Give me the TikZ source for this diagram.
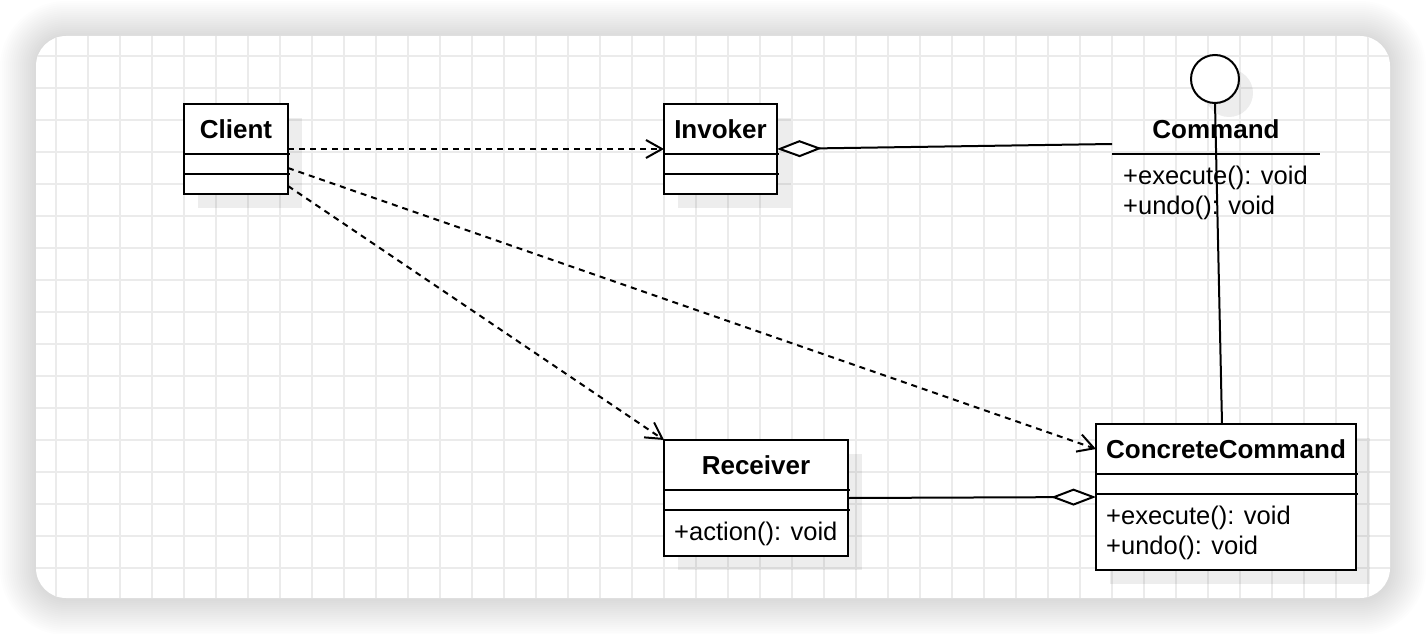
\documentclass[tikz,border=0pt]{standalone}
\usepackage{fontspec}
\setmainfont{Liberation Sans}
\usetikzlibrary{arrows.meta,shadows,positioning}

\definecolor{gridgray}{HTML}{EBEBEB}

\tikzset{
  umlclass/.style={draw, line width=2pt, fill=white, inner sep=0pt, outer sep=0pt,
    drop shadow={shadow xshift=14pt, shadow yshift=-14pt, fill=black, opacity=.07}},
  umlname/.style={font=\bfseries\fontsize{26}{30}\selectfont, inner sep=0pt, outer sep=0pt, minimum height=50pt},
  umlops/.style={font=\fontsize{25.5}{30}\selectfont, align=left, anchor=north west, inner xsep=10pt, inner ysep=12pt},
  umlline/.style={line width=2pt},
  dep/.style={line width=2pt, dash pattern=on 6pt off 5pt, -{Straight Barb[length=16pt,width=18pt]}},
  aggr/.style={line width=2pt, {Diamond[length=45pt,width=17pt,fill=white]}-},
}

\begin{document}
\begin{tikzpicture}[x=1pt,y=-1pt]
  \fill[white] (0,0) rectangle (1426,634);
  \useasboundingbox (0,0) rectangle (1426,634);

  % card and its shadow
  \foreach \i in {1,...,18}{
    \pgfmathsetmacro\r{30+2*\i}
    \fill[black, opacity=.007, rounded corners=\r pt] (36-2*\i,37-2*\i) rectangle (1390+2*\i,599+2*\i);
  }
  \fill[white, rounded corners=30pt] (36,36) rectangle (1390,598);
  \begin{scope}
    \clip[rounded corners=30pt] (36,36) rectangle (1390,598);
    \foreach \x in {56,88,...,1390} \draw[gridgray, line width=1.5pt] (\x,36) -- (\x,598);
    \foreach \y in {56,88,...,598} \draw[gridgray, line width=1.5pt] (36,\y) -- (1390,\y);
  \end{scope}

  % classes
  \node[umlclass, minimum width=104pt, minimum height=90pt] (client) at (236,149) {};
  \node[umlclass, minimum width=113pt, minimum height=90pt] (invoker) at (720.5,149) {};
  \node[umlclass, minimum width=184pt, minimum height=116pt] (receiver) at (756,498) {};
  \node[umlclass, minimum width=260pt, minimum height=146pt] (cc) at (1226,497) {};

  \node[umlname, below=0pt of client.north] (clientname) {Client};
  \node[umlname, below=0pt of invoker.north] (invokername) {Invoker};
  \node[umlname, below=0pt of receiver.north] (receivername) {Receiver};
  \node[umlname, below=0pt of cc.north] (ccname) {ConcreteCommand};

  \foreach \c in {client,invoker,receiver,cc}{
    \draw[umlline] ([yshift=-50pt]\c.north west) -- ([xshift=2pt,yshift=-50pt]\c.north east);
    \draw[umlline] ([yshift=-70pt]\c.north west) -- ([xshift=2pt,yshift=-70pt]\c.north east);
  }

  \node[umlops] (receiverops) at ([yshift=-70pt]receiver.north west) {+action(): void};
  \node[umlops] (ccops) at ([yshift=-70pt]cc.north west) {+execute(): void\\+undo(): void};

  % interface
  \node[umlclass, circle, minimum size=48pt] (commandicon) at (1215,79) {};
  \node[umlname, minimum width=208pt] (command) at (1216,129) {Command};
  \draw[umlline] (command.south west) -- (command.south east);
  \node[umlops, inner xsep=11pt] (commandops) at (command.south west) {+execute(): void\\+undo(): void};

  % relations
  \draw[dep] (client.east) -- (invoker.west);
  \draw[dep] ([yshift=-19pt]client.east) -- ([yshift=48pt]cc.west);
  \draw[dep] ([yshift=-37pt]client.east) -- (receiver.north west);
  \draw[aggr] (invoker.east) -- ([yshift=-15pt]command.west);
  \draw[aggr] (cc.west) -- (receiver.east);
  \draw[umlline] (commandicon.south) -- ([xshift=-4pt]cc.north);
\end{tikzpicture}
\end{document}
